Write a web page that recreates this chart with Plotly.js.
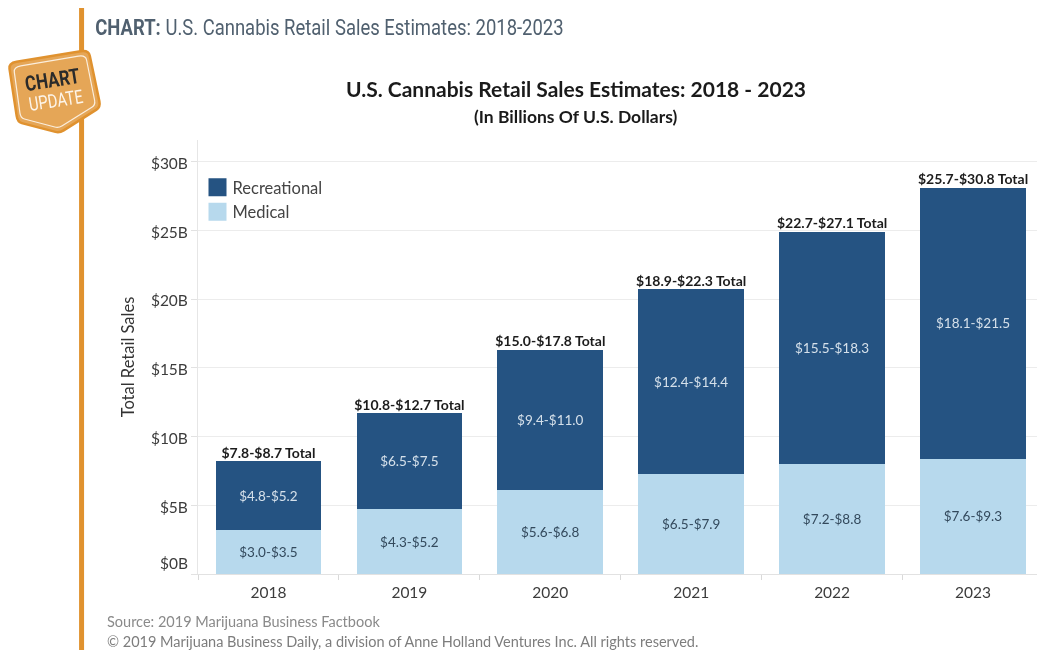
<!DOCTYPE html>
<html>
<head>
<meta charset="utf-8">
<script src="https://cdn.plot.ly/plotly-3.0.1.min.js"></script>
<style>html,body{margin:0;padding:0;background:#fff}#c{width:1037px;height:650px;filter:blur(0.45px)}</style>
</head>
<body>
<div id="c"></div>
<script>
const years = ['2018','2019','2020','2021','2022','2023'];
const medical = [3.2,4.7,6.1,7.3,8.0,8.4];
const recreational = [5.0,7.0,10.2,13.4,16.9,19.7];
const medicalLabels = ['$3.0-$3.5','$4.3-$5.2','$5.6-$6.8','$6.5-$7.9','$7.2-$8.8','$7.6-$9.3'];
const recreationalLabels = ['$4.8-$5.2','$6.5-$7.5','$9.4-$11.0','$12.4-$14.4','$15.5-$18.3','$18.1-$21.5'];
const totalLabels = ['$7.8-$8.7 Total','$10.8-$12.7 Total','$15.0-$17.8 Total','$18.9-$22.3 Total','$22.7-$27.1 Total','$25.7-$30.8 Total'];
const yTickVals = [0,5,10,15,20,25,30];
const yTickText = ['','$5B','$10B','$15B','$20B','$25B','$30B'];

const L=197.5,R=1037,T=140,B=574,W=1037,H=650;
const xp=p=>(p-L)/(R-L), yp=p=>(B-p)/(B-T);
const FONT='Lato, Carlito, sans-serif', NARROW='Roboto, sans-serif';
const totals=medical.map((m,i)=>m+recreational[i]);
const ann=(text,x,y,size,color,extra)=>Object.assign({text,xref:'paper',yref:'paper',x:xp(x),y:yp(y),showarrow:false,xanchor:'center',yanchor:'middle',font:{family:FONT,size,color}},extra||{});
const poly=(pts)=>{
  const P=pts.map(p=>[xp(p[0]),yp(p[1])]);
  let d='';const n=P.length;
  for(let i=0;i<n;i++){
    const a=P[(i+n-1)%n],b=P[i],c=P[(i+1)%n],t=.1;
    const s=[b[0]+(a[0]-b[0])*t,b[1]+(a[1]-b[1])*t],e=[b[0]+(c[0]-b[0])*t,b[1]+(c[1]-b[1])*t];
    d+=(i?'L':'M')+s[0]+','+s[1]+'Q'+b[0]+','+b[1]+' '+e[0]+','+e[1];
  }
  return d+'Z';
};
const data=[
 {type:'bar',name:'Medical',x:years,y:medical,text:medicalLabels,textposition:'inside',insidetextanchor:'middle',textangle:0,constraintext:'none',
  insidetextfont:{family:FONT,size:13.5,color:'#33495c'},marker:{color:'#B7D9ED'},hoverinfo:'none'},
 {type:'bar',name:'Recreational',x:years,y:recreational,text:recreationalLabels,textposition:'inside',insidetextanchor:'middle',textangle:0,constraintext:'none',
  insidetextfont:{family:FONT,size:13.5,color:'#d5e0ea'},marker:{color:'#255382'},hoverinfo:'none'},
 {type:'scatter',mode:'text',x:years,y:totals,text:totalLabels,textposition:'top center',cliponaxis:false,showlegend:false,
  textfont:{family:FONT,size:14,color:'#1c1c1c',weight:700},hoverinfo:'none'}
];
const layout={
 width:W,height:H,paper_bgcolor:'#fff',plot_bgcolor:'#fff',showlegend:true,barmode:'stack',bargap:0.25,
 margin:{l:L,r:W-R,t:T,b:H-B,pad:0},font:{family:FONT,color:'#333'},
 title:{text:'<b>U.S. Cannabis Retail Sales Estimates: 2018 - 2023</b>',font:{family:FONT,size:21,color:'#1a1a1a'},x:576/W,xanchor:'center',y:1-90/H,yanchor:'middle'},
 xaxis:{type:'category',categoryorder:'array',categoryarray:years,range:[-0.5,5.454],tickson:'boundaries',ticks:'outside',ticklen:5,tickcolor:'#d9d9d9',tickwidth:1,
  showline:true,linecolor:'#e2e2e2',linewidth:1,showgrid:false,fixedrange:true,tickfont:{family:FONT,size:15.5,color:'#3c3c3c'},ticklabelstandoff:4},
 yaxis:{range:[0,(B-T)/13.75],tickmode:'array',tickvals:yTickVals,ticktext:yTickText,ticks:'outside',ticklen:6,tickcolor:'#e2e2e2',tickwidth:1,
  showline:true,linecolor:'#e6e6e6',linewidth:1,showgrid:true,gridcolor:'#ececec',gridwidth:1,zeroline:false,fixedrange:true,tickfont:{family:FONT,size:15.5,color:'#3c3c3c'},
  title:{text:'Total Retail Sales',font:{family:FONT,size:16.5,color:'#333'},standoff:12}},
 legend:{x:xp(192),y:yp(170),xanchor:'left',yanchor:'top',traceorder:'reversed',bgcolor:'rgba(0,0,0,0)',font:{family:FONT,size:16.5,color:'#444'},itemwidth:30,tracegroupgap:0},
 shapes:[
  {type:'line',xref:'paper',yref:'paper',x0:xp(81),x1:xp(81),y0:yp(8),y1:yp(650),line:{color:'#E0922F',width:5}},
  {type:'path',xref:'paper',yref:'paper',path:poly([[8,63],[88,50],[100,107],[59,133],[17,122]]),fillcolor:'#E5A657',line:{color:'#E0922F',width:2.5}},
  {type:'path',xref:'paper',yref:'paper',path:poly([[13,67],[85,55],[95,105],[58,128],[20,118]]),fillcolor:'rgba(0,0,0,0)',line:{color:'#fbeedd',width:1.2}}
 ],
 annotations:[
  ann('<b>CHART:</b> U.S. Cannabis Retail Sales Estimates: 2018-2023',92,27,22,'#50606f',{xanchor:'left',font:{family:NARROW,size:22,color:'#50606f'}}),
  ann('<b>(In Billions Of U.S. Dollars)</b>',576,116,17.5,'#1a1a1a'),
  ann('$0B',173,563,15.5,'#3c3c3c'),
  ann('<b>CHART</b>',52,80,21,'#2a2a2a',{textangle:-9,font:{family:NARROW,size:21,color:'#2a2a2a'}}),
  ann('UPDATE',55,101,19,'#fdf5ea',{textangle:-9,font:{family:NARROW,size:19,color:'#fdf5ea'}}),
  ann('Source: 2019 Marijuana Business Factbook',104,621,14.5,'#8a8a8a',{xanchor:'left'}),
  ann('© 2019 Marijuana Business Daily, a division of Anne Holland Ventures Inc. All rights reserved.',104,641,14.5,'#7d7d7d',{xanchor:'left'})
 ]
};
Plotly.newPlot('c',data,layout,{displayModeBar:false,staticPlot:true}).then(gd=>{
  // condensed typeface stand-in: squeeze narrow-set annotations horizontally
  const squeeze=(el,sx,anchorLeft)=>{
    const b=el.getBBox(), ax=anchorLeft?b.x:b.x+b.width/2;
    el.setAttribute('transform',`translate(${ax},0) scale(${sx},1) translate(${-ax},0) `+(el.getAttribute('transform')||''));
  };
  gd.querySelectorAll('.annotation-text').forEach(t=>{
    const s=t.textContent;
    if(s.startsWith('CHART:')) squeeze(t,0.84,true);
    else if(s==='CHART') squeeze(t,0.8,false);
    else if(s==='UPDATE') squeeze(t,0.78,false);
  });
  // larger, square legend swatches
  gd.querySelectorAll('.legendpoints path.legendundefined, .legend .legendbar path, .legendpoints path').forEach(p=>p.setAttribute('d','M-4,-9h18v18h-18z'));
  // tick labels sit slightly below their gridlines
  gd.querySelectorAll('.ytick text').forEach(t=>{
    t.setAttribute('transform',(t.getAttribute('transform')||'')+' translate(0,2)');
  });
});
</script>
</body>
</html>
